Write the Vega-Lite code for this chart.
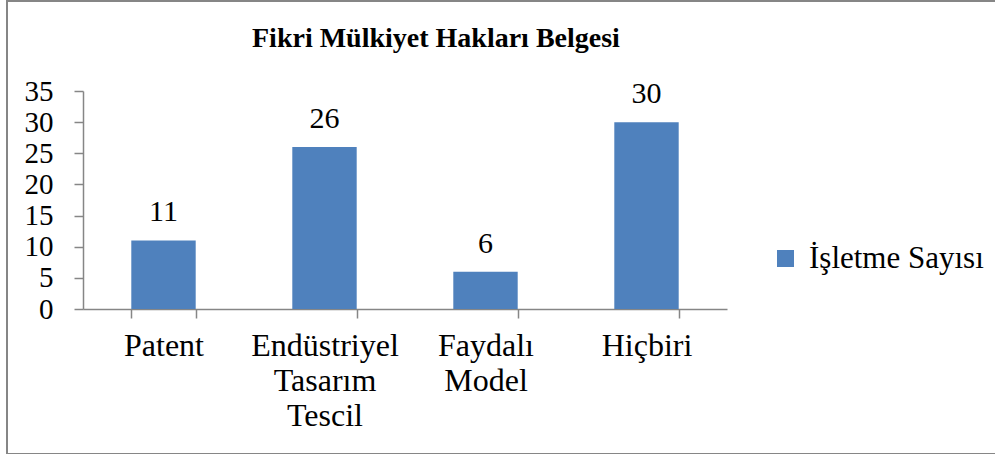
{
  "$schema": "https://vega.github.io/schema/vega-lite/v6.json",
  "autosize": "none",
  "padding": {"left": 7, "top": 1, "right": 0, "bottom": 0},
  "width": 1000,
  "height": 453,
  "background": "white",
  "title": {
    "text": "Fikri Mülkiyet Hakları Belgesi",
    "font": "Liberation Serif",
    "fontSize": 28,
    "fontWeight": "bold",
    "color": "black",
    "anchor": "start",
    "frame": "group",
    "orient": "top",
    "offset": -74,
    "baseline": "alphabetic",
    "dx": 245
  },
  "data": {
    "values": [
      {"kategori": "Patent", "deger": 11, "seri": "İşletme Sayısı"},
      {"kategori": "Endüstriyel Tasarım Tescil", "deger": 26, "seri": "İşletme Sayısı"},
      {"kategori": "Faydalı Model", "deger": 6, "seri": "İşletme Sayısı"},
      {"kategori": "Hiçbiri", "deger": 30, "seri": "İşletme Sayısı"}
    ]
  },
  "encoding": {
    "x": {
      "field": "kategori",
      "type": "nominal",
      "sort": null,
      "scale": {"range": [76, 720], "paddingInner": 0.6, "paddingOuter": 0.3},
      "axis": {
        "title": null,
        "offset": -145,
        "labelAngle": 0,
        "labelExpr": "split(datum.label, ' ')",
        "labelFont": "Liberation Serif",
        "labelFontSize": 32,
        "labelColor": "black",
        "labelLineHeight": 35,
        "labelPadding": 12,
        "labelBaseline": "top",
        "labelLimit": 300,
        "tickBand": "extent",
        "tickSize": 9,
        "tickColor": "#868686",
        "tickWidth": 1.5,
        "domainColor": "#868686",
        "domainWidth": 1.5,
        "grid": false
      }
    },
    "y": {
      "field": "deger",
      "type": "quantitative",
      "scale": {"domain": [0, 35], "range": [308, 90], "nice": false},
      "axis": {
        "title": null,
        "offset": -76,
        "values": [0, 5, 10, 15, 20, 25, 30, 35],
        "labelFont": "Liberation Serif",
        "labelFontSize": 29,
        "labelColor": "black",
        "labelPadding": 21,
        "tickSize": 9,
        "tickColor": "#868686",
        "tickWidth": 1.5,
        "domainColor": "#868686",
        "domainWidth": 1.5,
        "grid": false
      }
    }
  },
  "layer": [
    {
      "mark": {"type": "bar", "color": "#4F81BD"},
      "encoding": {
        "color": {
          "field": "seri",
          "type": "nominal",
          "scale": {"range": ["#4F81BD"]},
          "legend": {
            "title": null,
            "orient": "none",
            "legendX": 763,
            "legendY": 242,
            "padding": 0,
            "symbolType": "square",
            "symbolSize": 289,
            "symbolStrokeWidth": 0,
            "labelFont": "Liberation Serif",
            "labelFontSize": 31,
            "labelLimit": 400,
            "labelColor": "black",
            "labelOffset": 8
          }
        }
      }
    },
    {
      "mark": {
        "type": "text",
        "font": "Liberation Serif",
        "fontSize": 30,
        "color": "black",
        "baseline": "alphabetic",
        "dy": -19
      },
      "encoding": {"text": {"field": "deger", "type": "quantitative"}}
    }
  ],
  "config": {
    "view": {"stroke": "#868686", "strokeWidth": 2, "fill": "white"}
  }
}
